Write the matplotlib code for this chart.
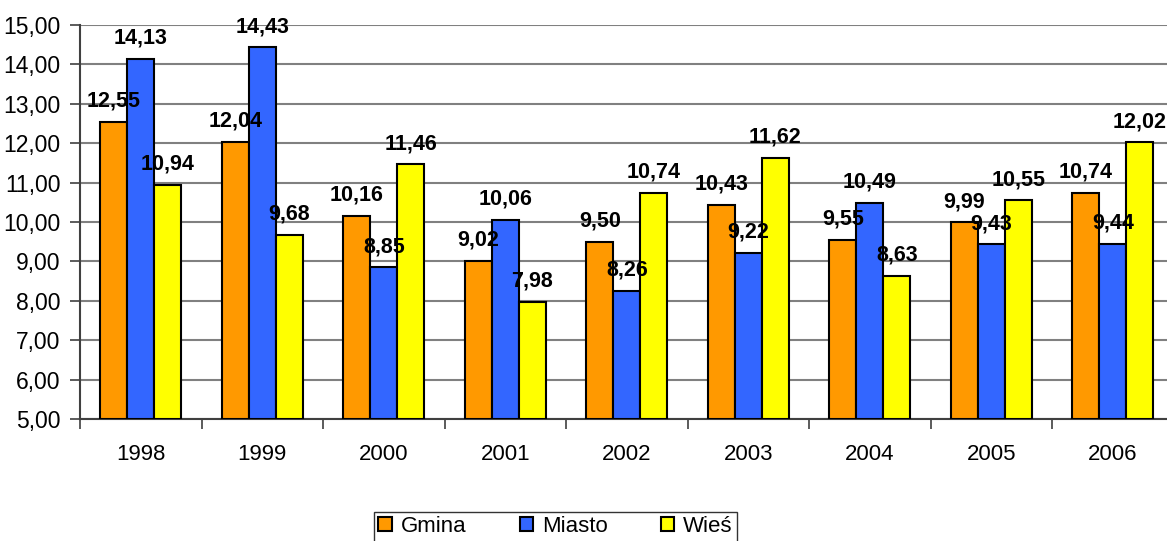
import matplotlib.pyplot as plt
import numpy as np

# dane
lata = ["1998", "1999", "2000", "2001", "2002", "2003", "2004", "2005", "2006"]
gmina = [12.55, 12.04, 10.16, 9.02, 9.50, 10.43, 9.55, 9.99, 10.74]
miasto = [14.13, 14.43, 8.85, 10.06, 8.26, 9.22, 10.49, 9.43, 9.44]
wies = [10.94, 9.68, 11.46, 7.98, 10.74, 11.62, 8.63, 10.55, 12.02]

plt.rcParams['font.family'] = ['Liberation Sans', 'DejaVu Sans']

fig = plt.figure(figsize=(11.67, 5.41), dpi=100)
ax = fig.add_axes([0.0686, 0.2255, 0.937, 0.7283])

x = np.arange(len(lata))
w = 0.222
serie = [("Gmina", gmina, "#FF9900"), ("Miasto", miasto, "#3366FF"), ("Wieś", wies, "#FFFF00")]
for i, (nazwa, vals, kolor) in enumerate(serie):
    pos = x + (i - 1) * w
    ax.bar(pos, np.array(vals) - 5, w, bottom=5, color=kolor, edgecolor="black",
           linewidth=1.5, label=nazwa, zorder=3)
    for px, v in zip(pos, vals):
        ax.annotate(f"{v:.2f}".replace(".", ","), (px, v), xytext=(0, 11),
                    textcoords="offset points", ha="center", va="baseline",
                    fontsize=15.5, fontweight="bold", zorder=4)

ax.set_ylim(5, 15)
ax.set_xlim(-0.5, len(lata) - 0.5)
ax.set_yticks(np.arange(5, 15.01, 1))
ax.set_yticklabels([f"{v:.2f}".replace(".", ",") for v in np.arange(5, 15.01, 1)])
ax.set_xticks(x)
ax.set_xticklabels(lata)
ax.set_xticks(np.arange(-0.5, len(lata), 1), minor=True)
ax.tick_params(axis="x", which="major", length=0, pad=18, labelsize=16)
ax.tick_params(axis="x", which="minor", length=7, width=1.2, color="#404040")
ax.tick_params(axis="y", length=7, width=1.2, color="#404040", pad=7, labelsize=16.5)
ax.grid(axis="y", color="#808080", linewidth=1.5, zorder=0)
for s in ["top", "right"]:
    ax.spines[s].set_visible(False)
for s in ["left", "bottom"]:
    ax.spines[s].set_color("#404040")
    ax.spines[s].set_linewidth(1.5)

leg = fig.legend(loc="upper center", bbox_to_anchor=(0.476, 0.054), ncol=3,
                 fontsize=16, frameon=True, fancybox=False, edgecolor="black",
                 handlelength=0.6, handleheight=0.6, columnspacing=2.4,
                 handletextpad=0.4, borderpad=0.2, borderaxespad=0)
leg.get_frame().set_linewidth(1.0)

fig.savefig("out.png", dpi=100)
